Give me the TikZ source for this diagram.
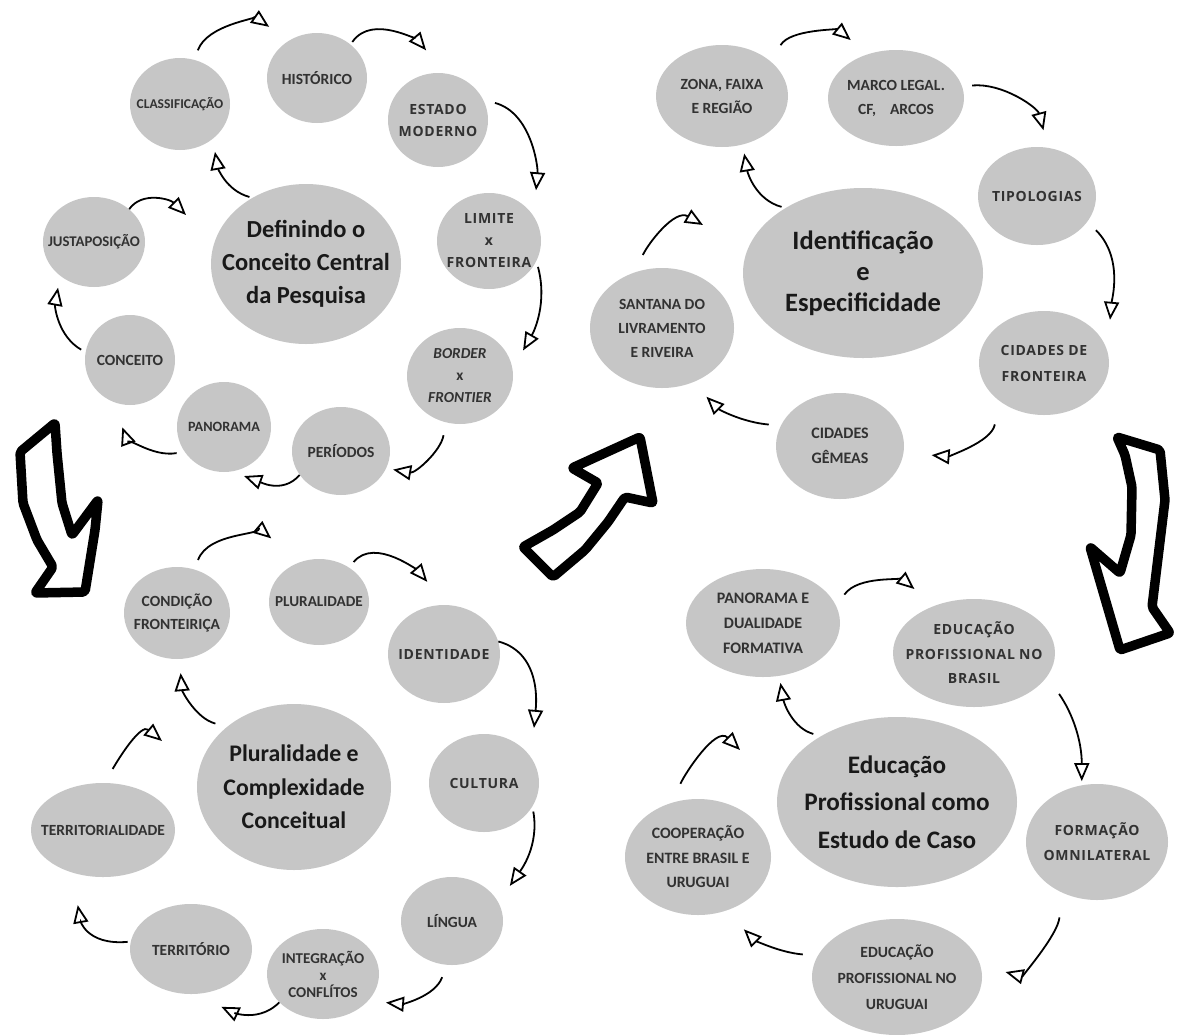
\documentclass[tikz,border=0pt]{standalone}
\usepackage{fontspec}
\setmainfont{Carlito}
\newfontfamily\spreadfont[LetterSpace=5]{Open Sans}
\usetikzlibrary{shapes.geometric,arrows.meta}

\definecolor{bubblegray}{RGB}{198,198,198}
\definecolor{labelink}{RGB}{50,50,50}

\tikzset{
  bubble/.style={ellipse, fill=bubblegray, inner sep=-40pt, align=center,
    text=labelink, font=\bfseries\fontsize{15.5}{23}\selectfont},
  spread/.style={bubble, font=\spreadfont\bfseries\fontsize{14}{22}\selectfont},
  hub/.style={bubble, text=black!90, font=\bfseries\fontsize{24.5}{33}\selectfont},
  flow/.style={line width=1.8pt, -{Triangle[open,length=18pt,width=15pt]}},
  bigarrow/.style={line width=9.5pt, line join=round, rounded corners=2pt, fill=white}
}

\begin{document}
\begin{tikzpicture}[x=1pt, y=1pt]
\path[use as bounding box, fill=white] (0,0) rectangle (1181,-1034);

% Definindo o conceito
\node[hub, minimum width=190pt, minimum height=160pt] (defin) at (306,-264) {Definindo o\\Conceito Central\\da Pesquisa};
\node[bubble, minimum width=100pt, minimum height=92pt, font=\bfseries\fontsize{13.5}{22}\selectfont] (classif) at (180,-104) {CLASSIFICAÇÃO};
\node[bubble, minimum width=100pt, minimum height=90pt] (historico) at (317,-78) {HISTÓRICO};
\node[spread, minimum width=100pt, minimum height=94pt] (estado) at (438,-120) {ESTADO\\MODERNO};
\node[spread, minimum width=104pt, minimum height=96pt] (limite) at (489,-241) {LIMITE\\x\\FRONTEIRA};
\node[bubble, minimum width=106pt, minimum height=96pt, font=\bfseries\itshape\fontsize{15.3}{22}\selectfont] (border) at (460,-376) {BORDER\\{\upshape x}\\FRONTIER};
\node[bubble, minimum width=98pt, minimum height=88pt] (periodos) at (341,-451) {PERÍODOS};
\node[bubble, minimum width=94pt, minimum height=90pt, font=\bfseries\fontsize{14.2}{22}\selectfont] (panorama) at (224,-427) {PANORAMA};
\node[bubble, minimum width=90pt, minimum height=90pt] (conceito) at (130,-360) {CONCEITO};
\node[bubble, minimum width=102pt, minimum height=90pt, font=\bfseries\fontsize{14.8}{22}\selectfont] (justa) at (94,-242) {JUSTAPOSIÇÃO};
\coordinate (tip-justa) at (186,-215);

\draw[flow, shorten <=10pt, shorten >=24pt] (classif.72) to[out=70,in=145] (historico.127);
\draw[flow, shorten <=3pt, shorten >=30pt] (historico.45) to[out=55,in=130] (estado.81);
\draw[flow, shorten <=12pt, shorten >=26pt] (estado.24) to[out=-15,in=85] (limite.29);
\draw[flow, shorten <=6pt, shorten >=21pt] (limite.-23) to[out=-75,in=60] (border.8);
\draw[flow, shorten <=13pt, shorten >=7pt] (border.-107) to[out=-100,in=-10] (periodos.-21);
\draw[flow, shorten >=13pt] (periodos.-150) to[out=-130,in=-20] (panorama.-80);
\draw[flow, shorten <=8pt, shorten >=27pt] (panorama.-148) to[out=190,in=-70] (conceito.-112);
\draw[flow, shorten <=5pt, shorten >=12pt] (conceito.170) to[out=150,in=-100] (justa.-135);
\draw[flow] (justa.43) to[out=55,in=135] (tip-justa);
\draw[flow, shorten <=3pt, shorten >=13pt] (defin.129) to[out=165,in=-80] (classif.-47);

% Identificacao e especificidade
\node[hub, minimum width=240pt, minimum height=170pt, font=\bfseries\fontsize{26.5}{31}\selectfont] (identif) at (863,-273) {Identificação\\e\\Especificidade};
\node[bubble, minimum width=132pt, minimum height=102pt, font=\bfseries\fontsize{15.5}{24}\selectfont] (zona) at (722,-96) {ZONA, FAIXA\\E REGIÃO};
\node[bubble, minimum width=136pt, minimum height=96pt, font=\bfseries\fontsize{15.5}{24}\selectfont] (marco) at (896,-98) {MARCO LEGAL.\\CF,\hspace{0.9em}ARCOS};
\node[spread, minimum width=118pt, minimum height=98pt] (tipolog) at (1037,-196) {TIPOLOGIAS};
\node[spread, minimum width=130pt, minimum height=104pt, font=\spreadfont\bfseries\fontsize{14}{26}\selectfont] (cidfront) at (1044,-363) {CIDADES DE\\FRONTEIRA};
\node[bubble, minimum width=128pt, minimum height=106pt, font=\bfseries\fontsize{16}{25}\selectfont] (gemeas) at (840,-446) {CIDADES\\GÊMEAS};
\node[bubble, minimum width=144pt, minimum height=120pt, font=\bfseries\fontsize{15.5}{24}\selectfont] (santana) at (662,-328) {SANTANA DO\\LIVRAMENTO\\E RIVEIRA};
\coordinate (tip-santana) at (703,-225);

\draw[flow, shorten <=19pt, shorten >=22pt] (zona.35) to[out=60,in=140] (marco.123);
\draw[flow, shorten <=10pt, shorten >=18pt] (marco.10) to[out=5,in=105] (tipolog.77);
\draw[flow, shorten <=12pt, shorten >=31pt] (tipolog.-27) to[out=-45,in=85] (cidfront.11);
\draw[flow, shorten <=24pt, shorten >=28pt] (cidfront.-140) to[out=-100,in=-5] (gemeas.-6);
\draw[flow, shorten <=12pt, shorten >=20pt] (gemeas.161) to[out=175,in=-45] (santana.-61);
\draw[flow, shorten <=19pt] (santana.116) to[out=65,in=150] (tip-santana);
\draw[flow, shorten <=4pt, shorten >=9pt] (identif.140) to[out=165,in=-80] (zona.-67);

% Pluralidade e complexidade
\node[hub, minimum width=194pt, minimum height=166pt, font=\bfseries\fontsize{23.8}{33.5}\selectfont] (plural) at (294,-787) {Pluralidade e\\Complexidade\\Conceitual};
\node[bubble, minimum width=106pt, minimum height=92pt] (condicao) at (177,-613) {CONDIÇÃO\\FRONTEIRIÇA};
\node[bubble, minimum width=100pt, minimum height=86pt, font=\bfseries\fontsize{15.2}{22}\selectfont] (pluralid) at (319,-602) {PLURALIDADE};
\node[spread, minimum width=112pt, minimum height=98pt] (identid) at (444,-654) {IDENTIDADE};
\node[spread, minimum width=110pt, minimum height=98pt] (cultura) at (484,-783) {CULTURA};
\node[bubble, minimum width=102pt, minimum height=88pt] (lingua) at (452,-921) {LÍNGUA};
\node[bubble, minimum width=112pt, minimum height=90pt, font=\bfseries\fontsize{15}{17}\selectfont] (integr) at (323,-974) {INTEGRAÇÃO\\x\\CONFLÍTOS};
\node[bubble, minimum width=122pt, minimum height=90pt] (territ) at (191,-949) {TERRITÓRIO};
\node[bubble, minimum width=144pt, minimum height=94pt] (territal) at (103,-830) {TERRITORIALIDADE};
\coordinate (tip-territal) at (162,-741);

\draw[flow, shorten <=10pt, shorten >=37pt] (condicao.68) to[out=70,in=140] (pluralid.116);
\draw[flow, shorten <=7pt, shorten >=30pt] (pluralid.49) to[out=50,in=130] (identid.87);
\draw[flow, shorten >=30pt] (identid.13) to[out=-15,in=85] (cultura.28);
\draw[flow, shorten <=5pt, shorten >=20pt] (cultura.-26) to[out=-80,in=55] (lingua.22);
\draw[flow, shorten <=13pt, shorten >=18pt] (lingua.-97) to[out=-110,in=-5] (integr.-31);
\draw[flow, shorten >=30pt] (integr.-147) to[out=-135,in=-25] (territ.-86);
\draw[flow, shorten <=3pt, shorten >=33pt, looseness=1.3] (territ.173) to[out=185,in=-80] (territal.-126);
\draw[flow, shorten <=16pt] (territal.88) to[out=60,in=140] (tip-territal);
\draw[flow, shorten <=12pt, shorten >=14pt] (plural.138) to[out=165,in=-85] (condicao.-87);

% Educacao profissional
\node[hub, minimum width=240pt, minimum height=170pt, font=\bfseries\fontsize{25.2}{37.5}\selectfont] (educacao) at (897,-802) {Educação\\Profissional como\\Estudo de Caso};
\node[bubble, minimum width=154pt, minimum height=108pt, font=\bfseries\fontsize{16}{25}\selectfont] (dualid) at (763,-623) {PANORAMA E\\DUALIDADE\\FORMATIVA};
\node[spread, minimum width=162pt, minimum height=108pt, font=\spreadfont\bfseries\fontsize{14}{24.5}\selectfont] (edbrasil) at (974,-653) {EDUCAÇÃO\\PROFISSIONAL NO\\BRASIL};
\node[spread, minimum width=142pt, minimum height=116pt, font=\spreadfont\bfseries\fontsize{14}{25}\selectfont] (omnilat) at (1097,-842) {FORMAÇÃO\\OMNILATERAL};
\node[bubble, minimum width=170pt, minimum height=116pt, font=\bfseries\fontsize{15.6}{26}\selectfont] (eduruguai) at (897,-977) {EDUCAÇÃO\\PROFISSIONAL NO\\URUGUAI};
\node[bubble, minimum width=146pt, minimum height=116pt, font=\bfseries\fontsize{15.8}{24.5}\selectfont] (cooper) at (698,-857) {COOPERAÇÃO\\ENTRE BRASIL E\\URUGUAI};
\coordinate (tip-cooper) at (740,-750);

\draw[flow, shorten <=14pt, shorten >=26pt] (dualid.13) to[out=55,in=140] (edbrasil.130);
\draw[flow, shorten <=21pt, shorten >=4pt] (edbrasil.-18) to[out=-55,in=90] (omnilat.105);
\draw[flow, shorten <=25pt, shorten >=26pt] (omnilat.-125) to[out=-95,in=-15] (eduruguai.8);
\draw[flow, shorten <=15pt, shorten >=26pt] (eduruguai.165) to[out=175,in=-45] (cooper.-63);
\draw[flow, shorten <=21pt] (cooper.116) to[out=65,in=135] (tip-cooper);
\draw[flow, shorten <=8pt, shorten >=7pt] (educacao.139) to[out=165,in=-80] (dualid.-73);

% big arrows between the groups
\draw[bigarrow] (55,-423) -- (57,-453) -- (62,-503) -- (72,-535) -- (98,-500) -- (95,-530) -- (85,-592) -- (35,-593) -- (53,-567) -- (37,-540) -- (23,-503) -- (20,-452) -- cycle;
\draw[bigarrow] (523,-547) -- (553,-530) -- (580,-512) -- (598,-483) -- (572,-468) -- (640,-437) -- (653,-503) -- (625,-497) -- (608,-522) -- (585,-550) -- (553,-577) -- cycle;
\draw[bigarrow] (1117,-437) -- (1160,-450) -- (1165,-500) -- (1152,-607) -- (1170,-633) -- (1120,-650) -- (1090,-547) -- (1120,-573) -- (1131,-535) -- (1132,-487) -- (1125,-455) -- cycle;
\end{tikzpicture}
\end{document}
